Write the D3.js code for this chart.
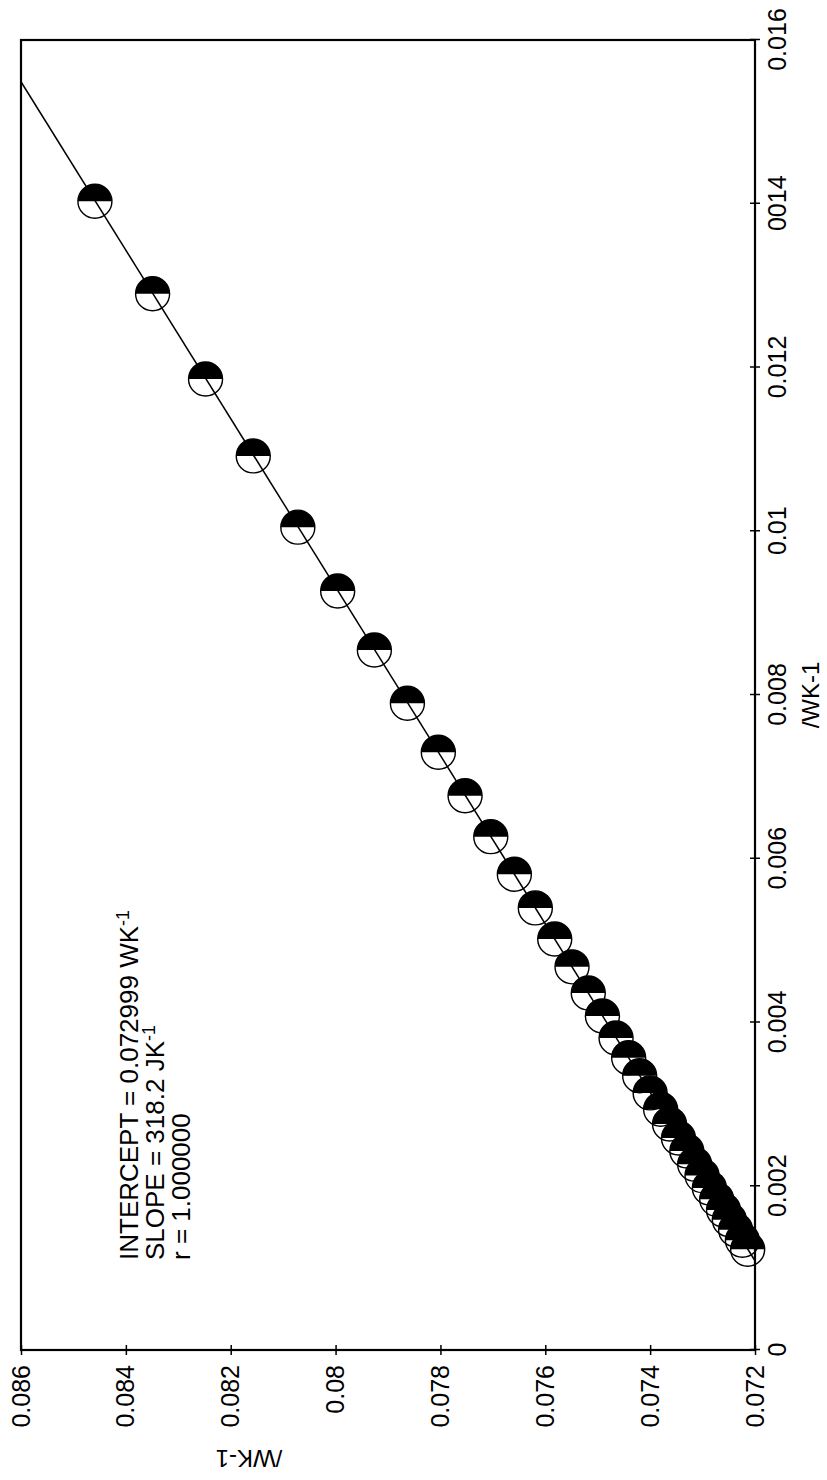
<!DOCTYPE html>
<html>
<head>
<meta charset="utf-8">
<script src="https://cdn.jsdelivr.net/npm/d3@7"></script>
<style>
  body { margin: 0; background: #fff; }
  text { font-family: "Liberation Sans", Arial, sans-serif; fill: #000; }
</style>
</head>
<body>
<script>
// values (chart is printed turned 90deg)
var xTicks = [0, 0.002, 0.004, 0.006, 0.008, 0.01, 0.012, 0.014, 0.016];
var xTickLabels = ['0', '0.002', '0.004', '0.006', '0.008', '0.01', '0.012', '0014', '0.016'];
var yTicks = [0.072, 0.074, 0.076, 0.078, 0.08, 0.082, 0.084, 0.086];
var yTickLabels = ['0.072', '0.074', '0.076', '0.078', '0.08', '0.082', '0.084', '0.086'];

var ptX = [0.01403, 0.01290, 0.01186, 0.01092, 0.01005, 0.00927, 0.00855, 0.00790, 0.00730,
  0.00677, 0.00627, 0.00581, 0.00540, 0.00502, 0.00468, 0.00436, 0.00408, 0.00381, 0.00357,
  0.00335, 0.00314, 0.00294, 0.00276, 0.00259, 0.00243, 0.00227, 0.00213, 0.00198, 0.00184,
  0.00171, 0.00159, 0.00147, 0.00134, 0.00123];
var ptY = [0.08459, 0.08349, 0.08248, 0.08157, 0.08072, 0.07996, 0.07926, 0.07863, 0.07804,
  0.07753, 0.07704, 0.07659, 0.07619, 0.07582, 0.07549, 0.07518, 0.07491, 0.07465, 0.07441,
  0.07420, 0.07400, 0.07380, 0.07363, 0.07346, 0.07330, 0.07315, 0.07301, 0.07287, 0.07273,
  0.07260, 0.07249, 0.07237, 0.07224, 0.07214];

var fitX = [0.00109, 0.01549];
var fitY = [0.0720, 0.0860];

var notes = ['INTERCEPT = 0.072999 WK', 'SLOPE = 318.2 JK', 'r = 1.000000'];
var noteSup = ['-1', '-1', ''];

var W = 1310, H = 734;

var svg = d3.select('body').append('svg')
  .attr('width', 827)
  .attr('height', 1480);

svg.append('rect').attr('width', 827).attr('height', 1480).attr('fill', '#fff');

// whole chart turned a quarter to the left
var g = svg.append('g')
  .attr('transform', 'translate(21,1350) rotate(-90)');

var x = d3.scaleLinear().domain([0, 0.016]).range([0, W]);
var y = d3.scaleLinear().domain([0.072, 0.086]).range([H, 0]);

var xAxis = g.append('g')
  .attr('transform', 'translate(0,' + H + ')')
  .call(d3.axisBottom(x)
    .tickValues(xTicks)
    .tickFormat(function(d, i) { return xTickLabels[i]; })
    .tickSizeInner(5).tickSizeOuter(0).tickPadding(8));

var yAxis = g.append('g')
  .call(d3.axisLeft(y)
    .tickValues(yTicks)
    .tickFormat(function(d, i) { return yTickLabels[i]; })
    .tickSizeInner(5).tickSizeOuter(0).tickPadding(10));

xAxis.selectAll('.tick line').attr('y1', -5).attr('stroke-width', 1.5);
yAxis.selectAll('.tick line').attr('x1', 5).attr('stroke-width', 1.5);
g.selectAll('.domain').remove();
g.selectAll('.tick text')
  .style('font-size', '25px')
  .style('font-family', '"Liberation Sans", Arial, sans-serif');

g.append('rect')
  .attr('width', W)
  .attr('height', H)
  .attr('fill', 'none')
  .attr('stroke', '#000')
  .attr('stroke-width', 2.2);

// half-filled markers
var r = 17;
var halfArc = d3.arc()({innerRadius: 0, outerRadius: r, startAngle: 0, endAngle: Math.PI});

var pts = ptX.map(function(d, i) { return {x: d, y: ptY[i]}; });

var mk = g.selectAll('.mk')
  .data(pts)
  .enter().append('g')
    .attr('class', 'mk')
    .attr('transform', function(d) { return 'translate(' + x(d.x) + ',' + y(d.y) + ')'; });

mk.append('circle')
  .attr('r', r)
  .attr('fill', 'none')
  .attr('stroke', '#000')
  .attr('stroke-width', 1.4);

mk.append('path')
  .attr('d', halfArc)
  .attr('fill', '#000');

// fitted line
var line = d3.line()
  .x(function(d) { return x(d[0]); })
  .y(function(d) { return y(d[1]); });

g.append('path')
  .datum(fitX.map(function(d, i) { return [d, fitY[i]]; }))
  .attr('d', line)
  .attr('fill', 'none')
  .attr('stroke', '#000')
  .attr('stroke-width', 1.5);

// axis titles
g.append('text')
  .attr('x', W / 2)
  .attr('y', H + 56)
  .attr('dy', '0.35em')
  .style('text-anchor', 'middle')
  .style('font-size', '24px')
  .text('/WK-1');

g.append('text')
  .attr('transform', 'translate(-108,228) rotate(-90)')
  .attr('dy', '0.35em')
  .style('text-anchor', 'middle')
  .style('font-size', '24px')
  .text('/WK-1');

// fit results
notes.forEach(function(n, i) {
  var t = g.append('text')
    .attr('x', 90)
    .attr('y', 117 + i * 26)
    .style('font-size', '26px')
    .text(n);
  if (noteSup[i]) {
    t.append('tspan')
      .attr('dy', -9)
      .style('font-size', '18px')
      .text(noteSup[i]);
  }
});
</script>
</body>
</html>
